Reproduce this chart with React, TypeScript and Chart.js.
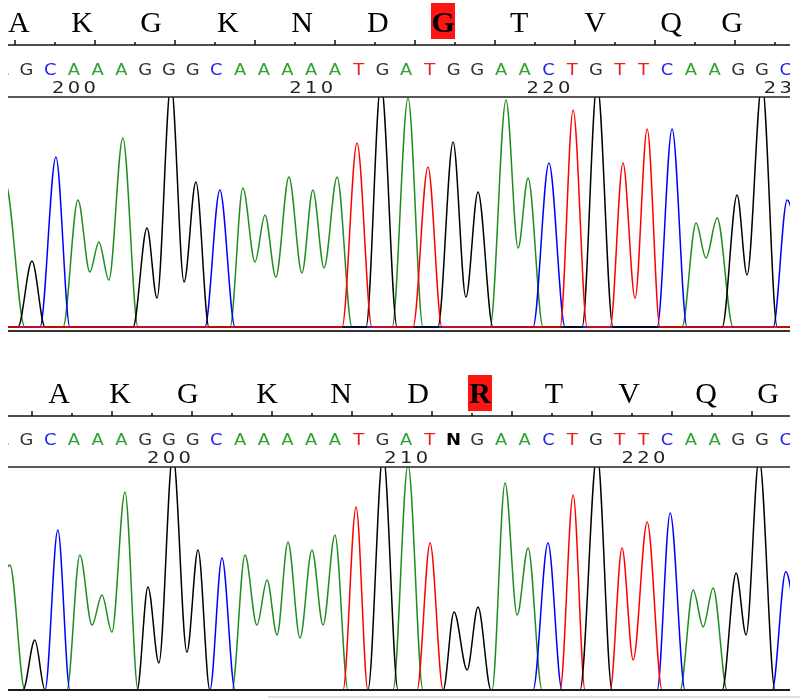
import React, { useEffect, useRef } from "react";
import { Chart, registerables } from "chart.js";

Chart.register(...registerables);

type Pt = [number, number];

// ---------- DATA ----------
const topSeqStart = 197;
const topBases = "AGCAAAGGGCAAAAATGATGGAACTGTTCAAGGC".split("");
const topNumberLabels = [200, 210, 220, 230];
const topAminoAcids = ["A", "K", "G", "K", "N", "D", "G", "T", "V", "Q", "G"];
const topAminoPositions = [197.68, 200.34, 203.25, 206.49, 209.61, 212.81, 215.56, 218.76, 221.96, 225.17, 227.74];
const topRange = [197.22, 230.18];

const bottomSeqStart = 193;
const bottomBases = "AGCAAAGGGCAAAAATGATNGAACTGTTCAAGGC".split("");
const bottomNumberLabels = [190, 200, 210, 220];
const bottomAminoAcids = ["A", "K", "G", "K", "N", "D", "R", "T", "V", "Q", "G"];
const bottomAminoPositions = [195.37, 197.94, 200.8, 204.14, 207.26, 210.5, 213.12, 216.23, 219.4, 222.64, 225.26];
const bottomRange = [193.22, 226.18];

const highlightedAmino = 6;

// trace signal (% of panel height) at base positions
const topTraceA: Pt[] = [[196.5,30],[197.1,63],[197.93,0],[199.54,0],[200.17,55.2],[200.67,23.9],[201.05,37.0],[201.47,20.4],[202.06,82.2],[202.7,0],[206.58,0],[207.12,60.4],[207.63,28.3],[208.05,48.7],[208.51,21.7],[209.06,65.2],[209.61,23.5],[210.07,59.6],[210.54,25.7],[211.09,65.2],[211.72,0],[213.41,0],[214.08,99.6],[214.71,0],[217.54,0],[218.21,98.7],[218.72,34.3],[219.14,64.8],[219.77,0],[225.63,0],[226.22,45.2],[226.64,30.0],[227.11,47.4],[227.78,0],[230.6,0]];
const topTraceC: Pt[] = [[196.9,0],[198.57,0],[199.24,73.9],[199.83,0],[205.52,0],[206.15,59.6],[206.79,0],[219.35,0],[220.02,71.3],[220.7,0],[224.58,0],[225.21,86.1],[225.84,0],[229.47,0],[230.06,55.2],[230.65,30]];
const topTraceG: Pt[] = [[196.9,0],[197.64,0],[198.23,28.7],[198.78,0],[202.49,0],[203.08,43.0],[203.5,12.6],[204.09,106],[204.64,19.6],[205.14,63.0],[205.69,0],[212.31,0],[212.94,106],[213.62,0],[215.34,0],[215.98,80.4],[216.52,13.0],[217.03,58.7],[217.66,0],[221.42,0],[222.05,106],[222.72,0],[227.32,0],[227.95,57.4],[228.37,22.6],[229.0,106],[229.64,0],[230.6,0]];
const topTraceT: Pt[] = [[196.9,0],[211.3,0],[211.93,80.0],[212.56,0],[214.29,0],[214.92,69.6],[215.51,0],[220.49,0],[221.04,94.3],[221.63,0],[222.6,0],[223.14,71.3],[223.65,12.6],[224.16,86.1],[224.7,0],[230.6,0]];

const bottomTraceA: Pt[] = [[192.6,35],[193.3,56],[193.93,0],[195.7,0],[196.25,60.5],[196.76,29.1],[197.18,42.6],[197.6,26.0],[198.15,88.8],[198.7,0],[202.66,0],[203.21,60.5],[203.71,29.1],[204.14,49.3],[204.56,24.7],[205.02,66.4],[205.53,23.3],[206.03,62.8],[206.5,29.1],[207.0,69.5],[207.55,0],[209.45,0],[210.08,101],[210.71,0],[213.62,0],[214.17,92.8],[214.68,33.6],[215.14,63.7],[215.73,0],[221.55,0],[222.1,44.8],[222.52,28.3],[222.94,45.7],[223.53,0],[226.6,0]];
const bottomTraceC: Pt[] = [[192.9,0],[194.78,0],[195.32,71.7],[195.83,0],[201.73,0],[202.24,59.2],[202.79,0],[215.35,0],[215.98,65.9],[216.57,0],[220.58,0],[221.13,79.4],[221.76,0],[225.43,0],[226.0,53],[226.6,15]];
const bottomTraceG: Pt[] = [[192.9,0],[193.85,0],[194.35,22.4],[194.78,0],[198.66,0],[199.12,46.2],[199.58,12.1],[200.17,106],[200.76,17.0],[201.23,62.8],[201.73,0],[208.39,0],[209.03,106],[209.66,0],[211.56,0],[212.02,35.0],[212.57,9.0],[213.03,37.2],[213.58,0],[217.33,0],[218.05,106],[218.68,0],[223.32,0],[223.91,52.5],[224.33,24.7],[224.88,104],[225.55,0],[226.6,0]];
const bottomTraceT: Pt[] = [[192.9,0],[207.34,0],[207.89,82.1],[208.39,0],[210.46,0],[211.01,65.9],[211.56,0],[216.49,0],[217.04,87.4],[217.54,0],[218.6,0],[219.1,63.7],[219.57,13.5],[220.16,75.3],[220.79,0],[226.6,0]];

// ---------- STYLE ----------
const TRACE_COLORS: Record<string, string> = { A: "#1f8c1f", C: "#0000ff", G: "#000000", T: "#ff0000" };
const BASE_COLORS: Record<string, string> = { A: "#2fa52f", C: "#2323ee", G: "#333333", T: "#e82020", N: "#000000" };

interface PanelProps {
  height: number;
  padTop: number;
  padBottom: number;
  range: number[];
  traces: { base: string; pts: Pt[] }[];
  seqStart: number;
  bases: string[];
  numbers: number[];
  aminoAcids: string[];
  aminoPositions: number[];
  aminoBaseline: number;
  boxTop: number;
  boxBottom: number;
  rulerY: number;
  tickStart: number;
  baseBaseline: number;
  numberBaseline: number;
  bottomStyle: "top" | "bottom";
}

function drawScaled(ctx: CanvasRenderingContext2D, text: string, x: number, y: number, sx: number) {
  ctx.save();
  ctx.translate(x, y);
  ctx.scale(sx, 1);
  ctx.fillText(text, 0, 0);
  ctx.restore();
}

function Panel(p: PanelProps) {
  const ref = useRef<HTMLCanvasElement>(null);
  useEffect(() => {
    const canvas = ref.current!;
    const header = {
      id: "header",
      afterDatasetsDraw(chart: any) {
        const ctx: CanvasRenderingContext2D = chart.ctx;
        const area = chart.chartArea;
        const xs = chart.scales.x;
        ctx.save();
        // amino acids
        ctx.textAlign = "center";
        ctx.textBaseline = "alphabetic";
        p.aminoAcids.forEach((aa, i) => {
          const x = xs.getPixelForValue(p.aminoPositions[i]);
          if (i === highlightedAmino) {
            ctx.fillStyle = "#ff1414";
            ctx.fillRect(Math.round(x - 12), p.boxTop, 24, p.boxBottom - p.boxTop);
            ctx.font = "bold 30px 'Liberation Serif'";
          } else {
            ctx.font = "30px 'Liberation Serif'";
          }
          ctx.fillStyle = "#000";
          ctx.fillText(aa, x, p.aminoBaseline);
        });
        // ruler
        ctx.strokeStyle = "#111";
        ctx.lineWidth = 1.5;
        ctx.beginPath();
        ctx.moveTo(area.left, p.rulerY);
        ctx.lineTo(area.right, p.rulerY);
        for (let x = p.tickStart, k = 0; x <= area.right; x += 40, k++) {
          const len = k % 2 === 0 ? 5 : 3;
          ctx.moveTo(x, p.rulerY);
          ctx.lineTo(x, p.rulerY - len);
        }
        ctx.stroke();
        // bases and numbers (clipped to trace width)
        ctx.save();
        ctx.beginPath();
        ctx.rect(area.left, 0, area.right - area.left, area.top);
        ctx.clip();
        p.bases.forEach((b, i) => {
          const x = xs.getPixelForValue(p.seqStart + i);
          ctx.fillStyle = BASE_COLORS[b] || "#000";
          ctx.font = b === "N" ? "bold 16px 'DejaVu Sans'" : "16px 'DejaVu Sans'";
          drawScaled(ctx, b, x, p.baseBaseline, 1.12);
        });
        ctx.fillStyle = "#222";
        ctx.font = "15px 'DejaVu Sans'";
        p.numbers.forEach((n) => {
          const cx = xs.getPixelForValue(n);
          const s = String(n);
          for (let i = 0; i < s.length; i++) {
            drawScaled(ctx, s[i], cx + (i - (s.length - 1) / 2) * 15.75, p.numberBaseline, 1.3);
          }
        });
        ctx.restore();
        // top border of trace area
        ctx.strokeStyle = "#222";
        ctx.lineWidth = 1.3;
        ctx.beginPath();
        ctx.moveTo(area.left, area.top);
        ctx.lineTo(area.right, area.top);
        ctx.stroke();
        // bottom lines
        if (p.bottomStyle === "top") {
          ctx.strokeStyle = "#353535";
          ctx.lineWidth = 2;
          ctx.beginPath();
          ctx.moveTo(area.left, area.bottom + 4);
          ctx.lineTo(area.right, area.bottom + 4);
          ctx.stroke();
        } else {
          ctx.strokeStyle = "#1a1a1a";
          ctx.lineWidth = 2;
          ctx.beginPath();
          ctx.moveTo(area.left, area.bottom);
          ctx.lineTo(area.right, area.bottom);
          ctx.stroke();
          ctx.strokeStyle = "#e2e2e2";
          ctx.lineWidth = 2;
          ctx.beginPath();
          ctx.moveTo(268, area.bottom + 7);
          ctx.lineTo(800, area.bottom + 7);
          ctx.stroke();
        }
        ctx.restore();
      },
    };
    const chart = new Chart(canvas, {
      type: "line",
      data: {
        datasets: p.traces.map((t) => ({
          label: t.base,
          data: t.pts.map(([x, y]) => ({ x, y })),
          borderColor: TRACE_COLORS[t.base],
          borderWidth: 1.5,
          pointRadius: 0,
          fill: false,
          cubicInterpolationMode: "monotone" as const,
          clip: { left: 0, top: 0, right: 0, bottom: 4 } as any,
        })),
      },
      options: {
        animation: false,
        responsive: false,
        maintainAspectRatio: false,
        events: [],
        layout: { padding: { top: p.padTop, bottom: p.padBottom, left: 8, right: 10 } },
        scales: {
          x: { type: "linear", min: p.range[0], max: p.range[1], display: false },
          y: { type: "linear", min: 0, max: 100, display: false },
        },
        plugins: { legend: { display: false }, tooltip: { enabled: false } },
      },
      plugins: [header],
    });
    return () => chart.destroy();
  }, []);
  return <canvas ref={ref} width={800} height={p.height} style={{ display: "block", width: 800, height: p.height }} />;
}

export default function App() {
  return (
    <div style={{ position: "absolute", left: 0, top: 0, width: 800, height: 698, background: "#fff" }}>
      <Panel
        height={340}
        padTop={97}
        padBottom={13}
        range={topRange}
        traces={[
          { base: "T", pts: topTraceT },
          { base: "G", pts: topTraceG },
          { base: "C", pts: topTraceC },
          { base: "A", pts: topTraceA },
        ]}
        seqStart={topSeqStart}
        bases={topBases}
        numbers={topNumberLabels}
        aminoAcids={topAminoAcids}
        aminoPositions={topAminoPositions}
        aminoBaseline={32}
        boxTop={3}
        boxBottom={39}
        rulerY={45}
        tickStart={15}
        baseBaseline={75}
        numberBaseline={93}
        bottomStyle="top"
      />
      <Panel
        height={358}
        padTop={127}
        padBottom={8}
        range={bottomRange}
        traces={[
          { base: "G", pts: bottomTraceG },
          { base: "T", pts: bottomTraceT },
          { base: "C", pts: bottomTraceC },
          { base: "A", pts: bottomTraceA },
        ]}
        seqStart={bottomSeqStart}
        bases={bottomBases}
        numbers={bottomNumberLabels}
        aminoAcids={bottomAminoAcids}
        aminoPositions={bottomAminoPositions}
        aminoBaseline={63}
        boxTop={35}
        boxBottom={71}
        rulerY={76}
        tickStart={32}
        baseBaseline={105}
        numberBaseline={123}
        bottomStyle="bottom"
      />
    </div>
  );
}
